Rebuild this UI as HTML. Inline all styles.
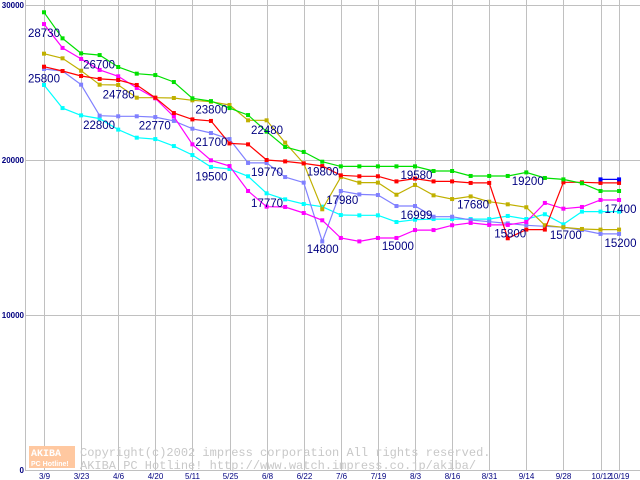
<!DOCTYPE html>
<html><head><meta charset="utf-8"><style>
html,body{margin:0;padding:0;background:#fff;width:640px;height:480px;overflow:hidden}
svg{display:block}
</style></head><body>
<svg id="chart" width="640" height="480" xmlns="http://www.w3.org/2000/svg" font-family="Liberation Sans, sans-serif">
<g id="grid"></g>
<g id="watermark">
<rect x="29" y="446" width="46" height="22" fill="#ffc8a0"/>
<text x="31" y="456" font-size="10" font-weight="bold" fill="#ffffff" font-family="Liberation Mono, monospace">AKIBA</text>
<text x="31" y="466" font-size="7" font-weight="bold" fill="#ffffff">PC Hotline!</text>
<text x="80" y="456" font-size="12" fill="#c8c8c8" font-family="Liberation Mono, monospace">Copyright(c)2002 impress corporation All rights reserved.</text>
<text x="80" y="469" font-size="12" fill="#c8c8c8" font-family="Liberation Mono, monospace">AKIBA PC Hotline!  http://www.watch.impress.co.jp/akiba/</text>
</g>
<g id="series"></g>
<g id="labels"></g>
<g id="axes"></g>
</svg>
<script>
const yTicks=[0,10000,20000,30000];
const xTickLabels=["3/9","3/23","4/6","4/20","5/11","5/25","6/8","6/22","7/6","7/19","8/3","8/16","8/31","9/14","9/28","10/12","10/19"];
const xTickIdx=[0,2,4,6,8,10,12,14,16,18,20,22,24,26,28,30,31];
const green=[29530,27850,26880,26770,26000,25570,25480,25030,23980,23800,23350,22900,21830,20840,20520,19890,19590,19590,19590,19590,19590,19290,19290,18970,18970,18970,19200,18840,18750,18500,18000,18000];
const magenta=[28770,27230,26520,25810,25400,24650,23980,22800,21010,19980,19610,18000,16990,16970,16580,16110,14970,14750,14970,14970,15480,15480,15790,15940,15810,15810,16000,17230,16860,16970,17420,17420];
const red=[26020,25740,25420,25230,25160,24840,24020,23030,22620,22520,21070,21010,20000,19910,19780,19610,19010,18950,18950,18620,18800,18620,18620,18520,18520,14950,15510,15510,18560,18560,18520,18520];
const olive=[26860,26560,25760,24860,24840,24020,24020,24000,23850,23760,23550,22560,22560,21120,19780,16820,18900,18540,18540,17760,18390,17720,17480,17650,17310,17140,16950,15790,15660,15550,15510,15510];
const lavender=[25870,25740,24860,22860,22820,22820,22770,22520,22020,21740,21350,19810,19810,18900,18540,14750,18000,17780,17740,17030,17030,16340,16340,16130,16020,15910,15790,15720,15660,15480,15230,15230];
const cyan=[24840,23350,22880,22670,21960,21440,21350,20900,20320,19550,19420,18950,17850,17460,17160,16990,16450,16430,16430,16000,16150,16190,16190,16190,16190,16390,16190,16500,15850,16670,16670,16670];
const blue=[null,null,null,null,null,null,null,null,null,null,null,null,null,null,null,null,null,null,null,null,null,null,null,null,null,null,null,null,null,null,18750,18750];
const labelTexts=["28730","25800","26700","24780","22800","22770","23800","21700","19500","22480","19770","17770","19800","17980","14800","15000","19580","16999","17680","15800","19200","15700","17400","15200"];
const labelIdx=[0,0,2,3,2,5,8,8,8,11,11,11,14,15,14,18,19,19,22,24,25,27,30,30];
const labelVals=[28730,25800,26700,24780,22800,22770,23800,21700,19500,22480,19770,17770,19800,17980,14800,15000,19580,16999,17680,15800,19200,15700,17400,15200];
const labelDx=[-16,-16,2,3,2,2,3,3,3,3,3,3,3,4,3,4,4,4,5,5,4,5,4,4];

const NS="http://www.w3.org/2000/svg";
function X(i){return 44+i*18.55;}
function Y(v){return 470-v*0.0155;}
function mk(tag,attrs,parent){const e=document.createElementNS(NS,tag);for(const k in attrs)e.setAttribute(k,attrs[k]);parent.appendChild(e);return e;}
const grid=document.getElementById('grid'),axes=document.getElementById('axes'),ser=document.getElementById('series'),lab=document.getElementById('labels');
yTicks.forEach(v=>{
 const l=mk('line',{x1:25,x2:640,y1:Y(v)+0.5,y2:Y(v)+0.5,stroke:'#c0c0c0','stroke-width':1},grid);
 
 
 const t=mk('text',{x:24,y:Y(v)+3,'font-size':8,'font-weight':'bold',fill:'#000080','text-anchor':'end'},axes);
 t.textContent=String(v);
 
 
});
xTickIdx.forEach((idx,k)=>{
 const x=Math.round(X(idx))+0.5;
 const l=mk('line',{x1:x,x2:x,y1:0,y2:470,stroke:'#c0c0c0','stroke-width':1},grid);
 
 
 const t=mk('text',{x:x,y:479,'font-size':8,fill:'#000080','text-anchor':'middle'},axes);
 t.textContent=xTickLabels[k];
 
 
});
const al=mk('line',{x1:25.5,x2:25.5,y1:0,y2:471,stroke:'#c0c0c0','stroke-width':1},axes);


const ab=mk('line',{x1:25,x2:640,y1:470.5,y2:470.5,stroke:'#c0c0c0','stroke-width':1},axes);


function drawSeries(data,color,name){
 const g=mk('g',{},ser);
 
 
 let pts=[];
 data.forEach((v,i)=>{if(v!=null)pts.push(X(i).toFixed(1)+','+Y(v).toFixed(1));});
 const p=mk('polyline',{points:pts.join(' '),fill:'none',stroke:color,'stroke-width':1.2},g);
 
 
 data.forEach((v,i)=>{if(v==null)return;
  const r=mk('rect',{x:X(i)-2,y:Y(v)-2,width:4,height:4,fill:color},g);
  
  
 });
}
drawSeries(cyan,'#00ffff','series-cyan');
drawSeries(lavender,'#8080ff','series-lavender');
drawSeries(olive,'#c0b000','series-olive');
drawSeries(magenta,'#ff00ff','series-magenta');
drawSeries(red,'#ff0000','series-red');
drawSeries(green,'#00e000','series-green');
drawSeries(blue,'#0000ff','series-blue');
labelTexts.forEach((s,k)=>{
 const t=mk('text',{x:X(labelIdx[k])+labelDx[k],y:Y(labelVals[k])+12.5,'font-size':11.5,fill:'#000080'},lab);
 t.textContent=s;
 
 
});
</script>
</body></html>
